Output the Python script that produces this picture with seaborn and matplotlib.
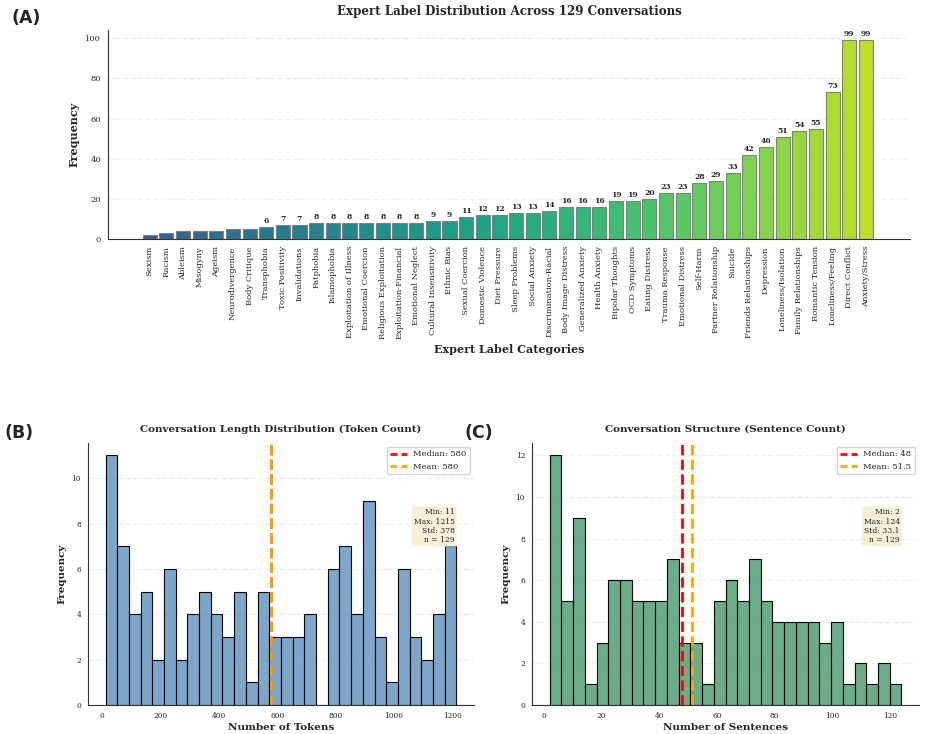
import numpy as np
import pandas as pd
import seaborn as sns
import matplotlib.pyplot as plt
from matplotlib.lines import Line2D

# Expert label counts (sorted ascending)
categories = ['Sexism', 'Racism', 'Ableism', 'Misogyny', 'Ageism', 'Neurodivergence',
              'Body Critique', 'Transphobia', 'Toxic Positivity', 'Invalidations',
              'Fatphobia', 'Islamophobia', 'Exploitation of Illness', 'Emotional Coercion',
              'Religious Exploitation', 'Exploitation-Financial', 'Emotional Neglect',
              'Cultural Insensitivity', 'Ethnic Bias', 'Sexual Coercion', 'Domestic Violence',
              'Diet Pressure', 'Sleep Problems', 'Social Anxiety', 'Discrimination-Racial',
              'Body Image Distress', 'Generalized Anxiety', 'Health Anxiety',
              'Bipolar Thoughts', 'OCD Symptoms', 'Eating Distress', 'Trauma Response',
              'Emotional Distress', 'Self-Harm', 'Partner Relationship', 'Suicide',
              'Friends Relationships', 'Depression', 'Loneliness/Isolation',
              'Family Relationships', 'Romantic Tension', 'Loneliness/Feeling',
              'Direct Conflict', 'Anxiety/Stress']
label_counts = [2, 3, 4, 4, 4, 5, 5, 6, 7, 7, 8, 8, 8, 8, 8, 8, 8, 9, 9, 11, 12, 12,
                13, 13, 14, 16, 16, 16, 19, 19, 20, 23, 23, 28, 29, 33, 42, 46, 51,
                54, 55, 73, 99, 99]

# Token count histogram (30 bins)
token_min, token_max = 11, 1215
token_counts = [11, 7, 4, 5, 2, 6, 2, 4, 5, 4, 3, 5, 1, 5, 3, 3, 3, 4, 0, 6,
                7, 4, 9, 3, 1, 6, 3, 2, 4, 7]
token_median, token_mean, token_std = 580, 580, 378

# Sentence count histogram (30 bins)
sent_min, sent_max = 2, 124
sent_counts = [12, 5, 9, 1, 3, 6, 6, 5, 5, 5, 7, 3, 3, 1, 5, 6, 5, 7, 5, 4,
               4, 4, 4, 3, 4, 1, 2, 1, 2, 1]
sent_median, sent_mean, sent_std = 48, 51.5, 33.1
n_conv = 129

sns.set_theme(style='white')
plt.rcParams['font.family'] = ['DejaVu Serif']

fig = plt.figure(figsize=(9.27, 7.34), dpi=100)
ax_a = fig.add_axes([0.1165, 0.674, 0.8652, 0.285])
ax_b = fig.add_axes([0.0949, 0.0395, 0.4164, 0.357])
ax_c = fig.add_axes([0.5739, 0.0395, 0.4175, 0.357])

# (A) bar chart
df = pd.DataFrame({'category': categories, 'count': label_counts})
colors = [plt.cm.viridis(v) for v in np.linspace(0.3, 0.9, len(categories))]
sns.barplot(data=df, x='category', y='count', hue='category', palette=colors,
            legend=False, width=0.85, edgecolor='gray', linewidth=0.8,
            saturation=1, ax=ax_a)
for i, v in enumerate(label_counts):
    if v > 5:
        ax_a.text(i, v + 1.0, str(v), ha='center', va='bottom',
                  fontsize=5.5, fontweight='bold')
ax_a.set_xlim(-2.5, 45.65)
ax_a.set_ylim(0, max(label_counts) * 1.05)
ax_a.set_title('Expert Label Distribution Across 129 Conversations',
               fontsize=8.6, fontweight='bold', pad=11)
ax_a.set_xlabel('Expert Label Categories', fontsize=8, fontweight='bold', labelpad=3)
ax_a.set_ylabel('Frequency', fontsize=8, fontweight='bold')
ax_a.tick_params(axis='x', rotation=90, labelsize=6, length=3, pad=2)
ax_a.tick_params(axis='y', labelsize=6, length=3, pad=2)

def hist_panel(ax, counts, lo, hi, median, mean, std, color, title, xlabel):
    edges = np.linspace(lo, hi, len(counts) + 1)
    hdf = pd.DataFrame({'value': (edges[:-1] + edges[1:]) / 2, 'n': counts})
    sns.histplot(data=hdf, x='value', weights='n', bins=len(counts),
                 binrange=(lo, hi), color=color, alpha=0.7,
                 edgecolor='black', linewidth=0.8, ax=ax)
    ax.axvline(median, color='red', linestyle='--', linewidth=2)
    ax.axvline(mean, color='orange', linestyle='--', linewidth=2)
    handles = [Line2D([0], [0], color='red', linewidth=2, dashes=(2.5, 1.5)),
               Line2D([0], [0], color='orange', linewidth=2, dashes=(2.5, 1.5))]
    ax.legend(handles, [f'Median: {median}', f'Mean: {mean}'],
              loc='upper right', fontsize=6)
    ax.text(0.95, 0.75, f'Min: {lo}\nMax: {hi}\nStd: {std}\nn = {n_conv}',
            transform=ax.transAxes, ha='right', va='top', fontsize=5.5,
            bbox=dict(boxstyle='round', facecolor='wheat', alpha=0.5))
    ax.set_title(title, fontsize=7.5, fontweight='bold', pad=8)
    ax.set_xlabel(xlabel, fontsize=7.5, fontweight='bold', labelpad=2)
    ax.set_ylabel('Frequency', fontsize=7.5, fontweight='bold')
    ax.tick_params(labelsize=5.3, length=3, pad=2)

hist_panel(ax_b, token_counts, token_min, token_max, token_median, token_mean,
           token_std, 'steelblue', 'Conversation Length Distribution (Token Count)',
           'Number of Tokens')
hist_panel(ax_c, sent_counts, sent_min, sent_max, sent_median, sent_mean,
           sent_std, 'seagreen', 'Conversation Structure (Sentence Count)',
           'Number of Sentences')

for ax in (ax_a, ax_b, ax_c):
    ax.yaxis.grid(True, linestyle='--', alpha=0.3)
    ax.set_axisbelow(True)
    sns.despine(ax=ax)
    for s in ('left', 'bottom'):
        ax.spines[s].set_color('#333333')
        ax.spines[s].set_linewidth(0.8)

for label, x, y in [('(A)', 0.012, 0.988), ('(B)', 0.005, 0.422), ('(C)', 0.501, 0.422)]:
    fig.text(x, y, label, fontsize=12.5, fontweight='bold', family='DejaVu Sans',
             ha='left', va='top')

fig.savefig('out.png', dpi=100)
